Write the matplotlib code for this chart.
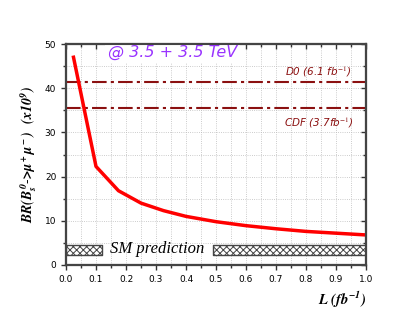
import numpy as np
import matplotlib.pyplot as plt
from matplotlib.ticker import MultipleLocator

plt.rcParams['mathtext.fontset'] = 'stix'

# luminosity (fb^-1) and expected BR limit (x10^-9)
lumi = [0.025, 0.1, 0.175, 0.25, 0.325, 0.4, 0.5, 0.6, 0.7, 0.8, 0.9, 1.0]
br_limit = [47.0, 22.3, 16.8, 14.0, 12.3, 11.0, 9.8, 8.9, 8.2, 7.6, 7.2, 6.8]

d0_limit = 41.5
cdf_limit = 35.5
sm_low, sm_high = 2.3, 4.5
sm_gap = (0.12, 0.49)   # where the label sits on the band

fig = plt.figure(figsize=(4.09, 3.24), dpi=100)
ax = fig.add_axes([66/409, 1-265/324, 300/409, 221/324])

ax.set_xlim(0, 1.0)
ax.set_ylim(0, 50)

ax.grid(True, which='both', color='#bbbbbb', linestyle=':', linewidth=0.6)
ax.xaxis.set_major_locator(MultipleLocator(0.1))
ax.xaxis.set_minor_locator(MultipleLocator(0.05))
ax.yaxis.set_major_locator(MultipleLocator(10))
ax.yaxis.set_minor_locator(MultipleLocator(5))
ax.tick_params(which='both', direction='out', top=False, right=False,
               labelsize=6.5, color='#333333', width=1)
ax.tick_params(which='major', length=3.5)
ax.tick_params(which='minor', length=2)
ax.xaxis.set_major_formatter(lambda v, p: '%.1f' % v)

# inward ticks on top and right
axt = ax.twiny()
axt.set_xlim(0, 1.0)
axt.xaxis.set_major_locator(MultipleLocator(0.1))
axt.xaxis.set_minor_locator(MultipleLocator(0.05))
axt.tick_params(which='both', direction='in', labeltop=False, color='#333333', width=1)
axt.tick_params(which='major', length=3.5)
axt.tick_params(which='minor', length=2)
axr = ax.twinx()
axr.set_ylim(0, 50)
axr.yaxis.set_major_locator(MultipleLocator(10))
axr.yaxis.set_minor_locator(MultipleLocator(5))
axr.tick_params(which='both', direction='in', labelright=False, color='#333333', width=1)
axr.tick_params(which='major', length=3.5)
axr.tick_params(which='minor', length=2)
for a in [ax, axt, axr]:
    for s in a.spines.values():
        s.set_linewidth(1.5)
        s.set_color('#444444')

# SM band (hatched, interrupted by the label)
plt.rcParams['hatch.linewidth'] = 0.7
for x0, x1 in [(0, sm_gap[0]), (sm_gap[1], 1.0)]:
    ax.fill_between([x0, x1], sm_low, sm_high, facecolor='white',
                    edgecolor='#444444', hatch='xxxxx', linewidth=1.0, zorder=3)
ax.text((sm_gap[0] + sm_gap[1]) / 2, (sm_low + sm_high) / 2 + 0.3, 'SM prediction',
        ha='center', va='center', fontsize=12, style='italic',
        family='Liberation Serif', zorder=4)

# experimental limits
ax.axhline(d0_limit, color='#8b1010', linestyle=(0, (7, 2, 1.5, 2)), linewidth=1.5, zorder=3)
ax.axhline(cdf_limit, color='#8b1010', linestyle=(0, (7, 2, 1.5, 2)), linewidth=1.5, zorder=3)
ax.text(0.95, 43.7, 'D0 (6.1 fb$^{-1}$)', color='#8b1010', ha='right',
        va='center', fontsize=7.5, style='italic')
ax.text(0.96, 32.1, 'CDF (3.7fb$^{-1}$)', color='#8b1010', ha='right',
        va='center', fontsize=7.5, style='italic')

# expected limit curve
ax.plot(lumi, br_limit, color='#ff0000', linewidth=2.5, zorder=5)

axt.text(0.14, 48.0, '@ 3.5 + 3.5 TeV', color='#9933ff', fontsize=11.5,
         style='italic', ha='left', va='center', zorder=6, clip_on=False,
         transform=ax.transData,
         bbox=dict(facecolor='white', edgecolor='none', pad=2))

ax.set_ylabel(r'$\mathbfit{BR(B_s^{\,0}\text{-}\!>\!\mu^+\mu^-)}$  $\mathbfit{(x10^9)}$',
              fontsize=10, labelpad=4)
ax.set_xlabel(r'$\mathbfit{L\ (fb^{-1})}$', fontsize=10.5, loc='right')

fig.savefig('out.png', dpi=100)
